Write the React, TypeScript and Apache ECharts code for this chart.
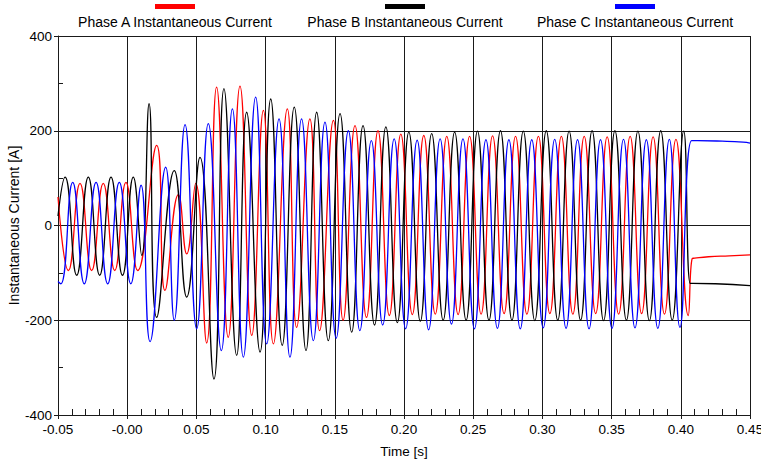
import React, { useEffect, useRef } from "react";
import * as echarts from "echarts";

// ---- Axis ranges & tick labels ----
const xMin = -0.05;
const xMax = 0.45;
const xStep = 0.05;
const xTickLabels = ["-0.05", "-0.00", "0.05", "0.10", "0.15", "0.20", "0.25", "0.30", "0.35", "0.40", "0.45"];
const yMin = -400;
const yMax = 400;
const yStep = 200;
const yTickLabels = ["-400", "-200", "0", "200", "400"];

const seriesNames = ["Phase A Instantaneous Current", "Phase B Instantaneous Current", "Phase C Instantaneous Current"];
const seriesColors = ["#ff0000", "#000000", "#0000ff"];

// ---- Phase A (red): extremes ----
const phaseATimes = [
  -0.05, -0.0425, -0.0341, -0.0257, -0.0173, -0.009, -0.0009, 0.0076, 0.0213, 0.0273,
  0.037, 0.043, 0.0495, 0.0574, 0.0646, 0.073, 0.0815, 0.09, 0.0984, 0.1056,
  0.1157, 0.1224, 0.132, 0.139, 0.149, 0.156, 0.1646, 0.1729, 0.1812, 0.1894,
  0.1977, 0.206, 0.2143, 0.2226, 0.2309, 0.2391, 0.2474, 0.2557, 0.264, 0.2723,
  0.2806, 0.2888, 0.2971, 0.3054, 0.3137, 0.322, 0.3302, 0.3385, 0.3468, 0.3551,
  0.3634, 0.3717, 0.38, 0.3882, 0.3965, 0.4054, 0.4082, 0.41, 0.42, 0.435, 0.45,
];
const phaseAValues = [
  60, -95, 89, -95, 89, -95, 91, -95, 169, -137,
  65, -60, 89, -248, 292, -236, 294, -232, 243, -250,
  246, -215, 225, -222, 222, -200, 211, -194, 200, -190,
  193, -188, 190, -187, 188, -188, 188, -187, 189, -186,
  188, -187, 188, -186, 188, -187, 188, -186, 187, -187,
  188, -186, 187, -187, 182, -190, -70, -69, -66, -64, -62,
];

// ---- Phase B (black) ----
const phaseBTimes = [
  -0.05, -0.0449, -0.0365, -0.0281, -0.0199, -0.0117, -0.0034, 0.0044, 0.0105, 0.0158,
  0.0213, 0.034, 0.043, 0.0526, 0.0627, 0.0699, 0.0791, 0.0863, 0.096, 0.1037,
  0.112, 0.1207, 0.1292, 0.1369, 0.1453, 0.1538, 0.1622, 0.1704, 0.1787, 0.1869,
  0.1952, 0.2035, 0.2118, 0.22, 0.2283, 0.2366, 0.2449, 0.2531, 0.2614, 0.2697,
  0.278, 0.2862, 0.2945, 0.3028, 0.3111, 0.3193, 0.3276, 0.3359, 0.3442, 0.3524,
  0.3607, 0.369, 0.3773, 0.3855, 0.3938, 0.4021, 0.4068, 0.4085, 0.425, 0.45,
];
const phaseBValues = [
  20, 102, -105, 102, -105, 102, -105, 102, -63, 257,
  -194, 116, -151, 144, -324, 289, -274, 239, -267, 267,
  -253, 250, -264, 239, -243, 236, -225, 211, -210, 208,
  -205, 197, -202, 194, -200, 197, -200, 199, -200, 200,
  -200, 199, -201, 200, -200, 199, -200, 200, -201, 200,
  -200, 199, -201, 200, -200, 199, -122, -122, -123, -127,
];

// ---- Phase C (blue) ----
const phaseCTimes = [
  -0.05, -0.0479, -0.0394, -0.031, -0.0225, -0.0141, -0.0057, 0.0026, 0.01, 0.0165,
  0.0278, 0.034, 0.0418, 0.0502, 0.0586, 0.068, 0.076, 0.0839, 0.0928, 0.1008,
  0.1097, 0.1176, 0.126, 0.1345, 0.1429, 0.151, 0.1598, 0.1681, 0.1764, 0.1846,
  0.1929, 0.2012, 0.2095, 0.2178, 0.2261, 0.2343, 0.2426, 0.2509, 0.2592, 0.2675,
  0.2758, 0.284, 0.2923, 0.3006, 0.3089, 0.3171, 0.3254, 0.3337, 0.342, 0.3503,
  0.3586, 0.3669, 0.3751, 0.3834, 0.3917, 0.3994, 0.4078, 0.412, 0.43, 0.445, 0.45,
];
const phaseCValues = [
  -118, -123, 91, -123, 91, -123, 91, -123, 85, -245,
  123, -200, 213, -218, 215, -264, 246, -278, 271, -250,
  225, -278, 225, -243, 218, -238, 200, -222, 179, -210,
  183, -218, 180, -220, 183, -208, 183, -218, 181, -217,
  181, -218, 181, -216, 182, -217, 181, -218, 181, -217,
  182, -216, 181, -217, 182, -215, 179, 179, 178, 176, 174,
];

const FONT = '"Liberation Sans", Arial, sans-serif';

function zip(ts: number[], vs: number[]) {
  return ts.map((t, i) => [t, vs[i]]);
}

export default function App() {
  const ref = useRef<HTMLDivElement>(null);
  useEffect(() => {
    if (!ref.current) return;
    const chart = echarts.init(ref.current, undefined, { renderer: "svg" });
    const gridColor = "#1a1a1a";
    const legendCenters = [175, 405, 635];
    const option: any = {
      animation: false,
      backgroundColor: "#ffffff",
      grid: { left: 58, right: 11, top: 36, bottom: 47, containLabel: false, outerBoundsMode: "none" },
      xAxis: [
        {
          type: "value",
          position: "bottom",
          min: xMin,
          max: xMax,
          interval: xStep,
          name: "Time [s]",
          nameLocation: "middle",
          nameGap: 29,
          nameTextStyle: { fontFamily: FONT, fontSize: 13.5, color: "#000" },
          axisLine: { show: true, onZero: false, lineStyle: { color: gridColor, width: 1 } },
          axisTick: { show: true, inside: false, length: 4, lineStyle: { color: gridColor } },
          axisLabel: {
            margin: 7,
            fontFamily: FONT,
            fontSize: 13.5,
            color: "#000",
            formatter: (v: number) => xTickLabels[Math.round((v - xMin) / xStep)] ?? "",
          },
          splitLine: { show: true, lineStyle: { color: gridColor, width: 1 } },
        },
        {
          type: "value",
          position: "bottom",
          min: xMin,
          max: xMax,
          interval: xStep,
          axisLine: { show: false, onZero: false },
          axisTick: { show: false, inside: true },
          axisLabel: { show: false },
          splitLine: { show: false },
          minorTick: { show: true, splitNumber: 5, length: 6, lineStyle: { color: gridColor } },
        },
      ],
      yAxis: [
        {
          type: "value",
          position: "left",
          min: yMin,
          max: yMax,
          interval: yStep,
          name: "Instantaneous Current [A]",
          nameLocation: "middle",
          nameGap: 37,
          nameMoveOverlap: false,
          nameTextStyle: { fontFamily: FONT, fontSize: 14, color: "#000" },
          axisLine: { show: true, onZero: false, lineStyle: { color: gridColor, width: 1 } },
          axisTick: { show: true, inside: false, length: 4, lineStyle: { color: gridColor } },
          axisLabel: {
            margin: 6,
            fontFamily: FONT,
            fontSize: 13.5,
            color: "#000",
            formatter: (v: number) => yTickLabels[Math.round((v - yMin) / yStep)] ?? "",
          },
          splitLine: { show: true, lineStyle: { color: gridColor, width: 1 } },
        },
        {
          type: "value",
          position: "left",
          min: yMin,
          max: yMax,
          interval: yStep,
          axisLine: { show: false, onZero: false },
          axisTick: { show: false, inside: true },
          axisLabel: { show: false },
          splitLine: { show: false },
          minorTick: { show: true, splitNumber: 2, length: 5, lineStyle: { color: gridColor } },
        },
      ],
      series: [
        { times: phaseATimes, values: phaseAValues },
        { times: phaseBTimes, values: phaseBValues },
        { times: phaseCTimes, values: phaseCValues },
      ].map((s, i) => ({
        type: "line",
        name: seriesNames[i],
        xAxisIndex: 0,
        yAxisIndex: 0,
        data: zip(s.times, s.values),
        smooth: 0.5,
        showSymbol: false,
        symbol: "none",
        lineStyle: { color: seriesColors[i], width: 1.3 },
        itemStyle: { color: seriesColors[i] },
        z: 3 + i,
      })),
      graphic: seriesNames.flatMap((name, i) => [
        {
          type: "rect",
          shape: { x: legendCenters[i] - 20, y: 4, width: 40, height: 5 },
          style: { fill: seriesColors[i] },
        },
        {
          type: "text",
          x: legendCenters[i],
          y: 22,
          style: {
            text: name,
            fill: "#000",
            font: `14px ${FONT}`,
            textAlign: "center",
            verticalAlign: "middle",
            textVerticalAlign: "middle",
          },
        },
      ]),
    };
    chart.setOption(option);
    return () => chart.dispose();
  }, []);
  return (
    <div
      ref={ref}
      style={{ position: "fixed", left: 0, top: 0, width: 761, height: 462, background: "#fff" }}
    />
  );
}
